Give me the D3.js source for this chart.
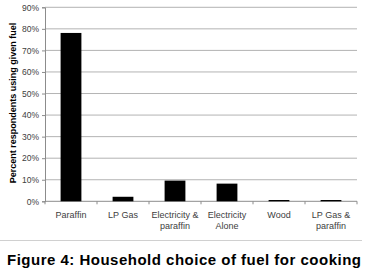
<!DOCTYPE html>
<html><head><meta charset="utf-8">
<script src="https://cdn.jsdelivr.net/npm/d3@7"></script>
<style>body{margin:0;background:#fff}svg{display:block}</style>
</head><body>
<script>
const categories = ["Paraffin", "LP Gas", "Electricity & paraffin", "Electricity Alone", "Wood", "LP Gas & paraffin"];
const labelLines = [["Paraffin"], ["LP Gas"], ["Electricity &", "paraffin"], ["Electricity", "Alone"], ["Wood"], ["LP Gas &", "paraffin"]];
const values = [78.1, 2.1, 9.6, 8.2, 0.6, 0.6];
const yTicks = [0, 10, 20, 30, 40, 50, 60, 70, 80, 90];

const W = 365, H = 271;
const m = {left: 45, right: 8, top: 7.3, bottom: 69.7};
const svg = d3.select("body").append("svg").attr("width", W).attr("height", H);
const x = d3.scaleBand().domain(categories).range([m.left, W - m.right]).paddingInner(0.6).paddingOuter(0.3);
const y = d3.scaleLinear().domain([0, 90]).range([H - m.bottom, m.top]);
const font = "'Liberation Sans', Arial, sans-serif";

// gridlines
svg.append("g").selectAll("line").data(yTicks.slice(1)).join("line")
  .attr("x1", m.left).attr("x2", W - m.right)
  .attr("y1", d => y(d)).attr("y2", d => y(d))
  .attr("stroke", "#a0a0a0").attr("stroke-width", 0.8);

// y axis
const ya = svg.append("g").attr("transform", `translate(${m.left},0)`)
  .call(d3.axisLeft(y).tickValues(yTicks).tickFormat(d => d + "%").tickSize(3).tickPadding(3));
ya.select(".domain").attr("stroke", "#8c8c8c");
ya.selectAll(".tick line").attr("stroke", "#8c8c8c");
ya.selectAll("text").attr("font-family", font).attr("font-size", 8.5).attr("fill", "#404040");

// x axis
const xa = svg.append("g").attr("transform", `translate(0,${y(0)})`);
xa.append("line").attr("x1", m.left).attr("x2", W - m.right).attr("stroke", "#8c8c8c");
const step = x.step();
const bounds = d3.range(categories.length + 1).map(i => m.left + (x(categories[0]) - x.paddingOuter()*step - m.left) + i * step);
xa.selectAll("line.t").data(bounds).join("line").attr("class", "t")
  .attr("x1", d => d).attr("x2", d => d).attr("y1", 0).attr("y2", 3).attr("stroke", "#8c8c8c");
const lbl = xa.selectAll("text").data(categories).join("text")
  .attr("x", d => x(d) + x.bandwidth() / 2).attr("y", 17)
  .attr("text-anchor", "middle").attr("font-family", font).attr("font-size", 9).attr("fill", "#404040");
lbl.each(function(d, i) {
  d3.select(this).selectAll("tspan").data(labelLines[i]).join("tspan")
    .attr("x", x(d) + x.bandwidth() / 2).attr("dy", (t, j) => j === 0 ? 0 : 11).text(t => t);
});

// bars
svg.append("g").selectAll("rect").data(values).join("rect")
  .attr("x", (d, i) => x(categories[i])).attr("width", x.bandwidth())
  .attr("y", d => y(d)).attr("height", d => y(0) - y(d)).attr("fill", "#000");

// y title
svg.append("text").attr("transform", `translate(15.5,103) rotate(-90)`)
  .attr("text-anchor", "middle").attr("font-family", font).attr("font-size", 9).attr("font-weight", "bold")
  .attr("fill", "#000").text("Percent respondents using given fuel");

// separator
svg.append("line").attr("x1", 0).attr("x2", 362).attr("y1", 240.5).attr("y2", 240.5).attr("stroke", "#d0d0d0");

// caption
svg.append("text").attr("x", 7).attr("y", 264.5).attr("text-anchor", "start")
  .attr("font-family", font).attr("font-weight", "bold").attr("font-size", 15).attr("fill", "#000")
  .attr("textLength", 354).attr("lengthAdjust", "spacing")
  .text("Figure 4: Household choice of fuel for cooking");
</script>
</body></html>
